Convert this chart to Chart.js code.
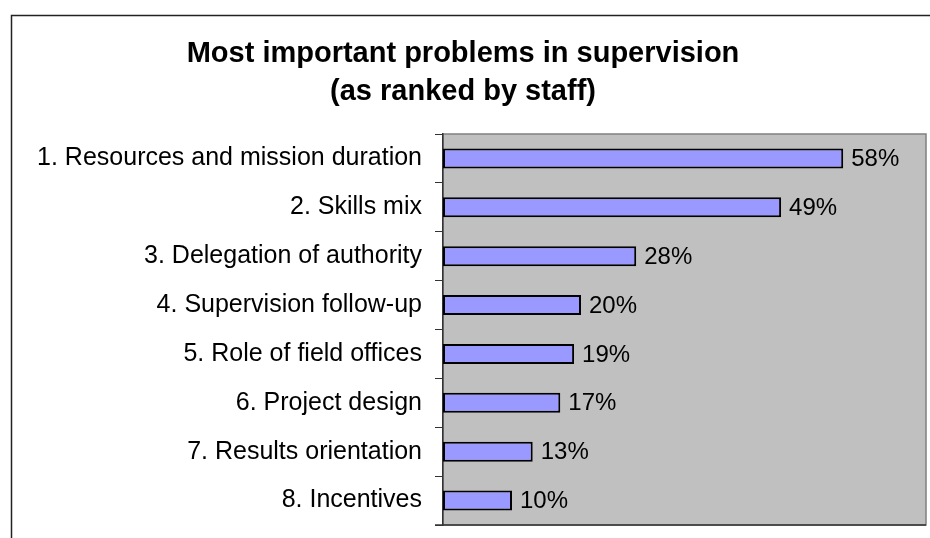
<!DOCTYPE html>
<html>
<head>
<meta charset="utf-8">
<script src="https://cdn.jsdelivr.net/npm/chart.js@4"></script>
<style>
    html, body { margin: 0; padding: 0; background: #ffffff; }
    #wrap { width: 930px; height: 538px; position: relative; }
</style>
</head>
<body>
<div id="wrap"><canvas id="problems"></canvas></div>
<script>
    // Survey results
    var problemLabels = [
        '1. Resources and mission duration',
        '2. Skills mix',
        '3. Delegation of authority',
        '4. Supervision follow-up',
        '5. Role of field offices',
        '6. Project design',
        '7. Results orientation',
        '8. Incentives'
    ];
    var problemShares = [58, 49, 28, 20, 19, 17, 13, 10];
    var titleLines = ['Most important problems in supervision', '(as ranked by staff)'];

    var fontFamily = 'Arial, "Liberation Sans", sans-serif';

    // outer frame, grey plot area and its border
    var framePlugin = {
        id: 'frame',
        beforeDraw: function(chart) {
            var c = chart.ctx, a = chart.chartArea;
            c.save();
            c.fillStyle = '#ffffff';
            c.fillRect(0, 0, chart.width, chart.height);
            c.strokeStyle = '#222222';
            c.lineWidth = 1.5;
            c.beginPath();
            c.moveTo(11.5, chart.height);
            c.lineTo(11.5, 15.5);
            c.lineTo(chart.width, 15.5);
            c.stroke();
            c.fillStyle = '#c0c0c0';
            c.fillRect(a.left, a.top, a.right - a.left, a.bottom - a.top);
            c.strokeStyle = '#808080';
            c.lineWidth = 1.5;
            c.strokeRect(a.left, a.top, a.right - a.left, a.bottom - a.top);
            c.strokeStyle = '#333333';
            c.beginPath();
            c.moveTo(a.left - 8, a.bottom);
            c.lineTo(a.right, a.bottom);
            c.stroke();
            c.restore();
        }
    };

    // percentage labels at the end of each bar
    var valuePlugin = {
        id: 'values',
        afterDatasetsDraw: function(chart) {
            var c = chart.ctx;
            var meta = chart.getDatasetMeta(0);
            c.save();
            c.font = '24px ' + fontFamily;
            c.fillStyle = '#000000';
            c.textAlign = 'left';
            c.textBaseline = 'middle';
            meta.data.forEach(function(bar, i) {
                c.fillText(problemShares[i] + '%', bar.x + 8, bar.y + 1);
            });
            c.restore();
        }
    };

    var ctx = document.getElementById('problems').getContext('2d');
    window.problemChart = new Chart(ctx, {
        type: 'bar',
        data: {
            labels: problemLabels,
            datasets: [{
                data: problemShares,
                backgroundColor: '#9999ff',
                borderColor: '#000000',
                borderWidth: 2,
                borderSkipped: false,
                barPercentage: 0.41,
                categoryPercentage: 1
            }]
        },
        plugins: [framePlugin, valuePlugin],
        options: {
            indexAxis: 'y',
            responsive: true,
            maintainAspectRatio: false,
            animation: false,
            layout: {
                padding: { left: 0, right: 4, top: 0, bottom: 13 }
            },
            plugins: {
                legend: { display: false },
                tooltip: { enabled: false },
                title: {
                    display: true,
                    text: titleLines,
                    color: '#000000',
                    font: { family: fontFamily, size: 29, weight: 'bold', lineHeight: '38px' },
                    padding: { top: 35, bottom: 23 }
                }
            },
            scales: {
                x: {
                    display: false,
                    min: 0,
                    max: 70
                },
                y: {
                    afterFit: function(scale) {
                        scale.width = 443;
                        scale.paddingTop = 0;
                        scale.paddingBottom = 0;
                    },
                    grid: {
                        drawOnChartArea: false,
                        offset: true,
                        tickLength: 8,
                        color: '#333333'
                    },
                    border: { color: '#333333', width: 1.5 },
                    ticks: {
                        color: '#000000',
                        padding: 13,
                        font: { family: fontFamily, size: 25 }
                    }
                }
            }
        }
    });
</script>
</body>
</html>
